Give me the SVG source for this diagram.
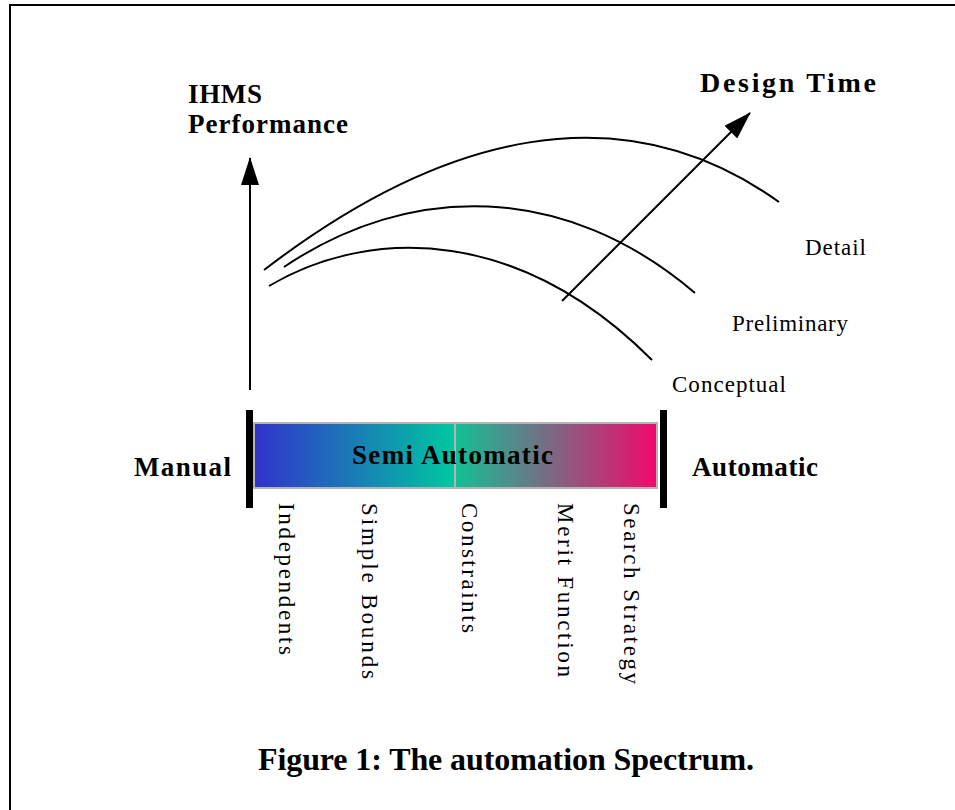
<svg xmlns="http://www.w3.org/2000/svg" width="955" height="810" viewBox="0 0 955 810">
<defs>
<style>
.b{font-family:"Liberation Serif","Times New Roman",serif;font-weight:bold;fill:#000}
.r{font-family:"Liberation Serif","Times New Roman",serif;fill:#000}
.ln{fill:none;stroke:#000;stroke-width:2}
</style>
<linearGradient id="g1" x1="0" y1="0" x2="1" y2="0">
<stop offset="0" stop-color="#3232cc"/>
<stop offset="1" stop-color="#00c8a0"/>
</linearGradient>
<linearGradient id="g2" x1="0" y1="0" x2="1" y2="0">
<stop offset="0" stop-color="#12c096"/>
<stop offset="1" stop-color="#f2086c"/>
</linearGradient>
<marker id="ah" viewBox="0 0 28 18" refX="27" refY="9" markerWidth="28" markerHeight="18" markerUnits="userSpaceOnUse" orient="auto">
<path d="M0,0 L28,9 L0,18 Z" fill="#000"/>
</marker>
</defs>
<rect width="955" height="810" fill="#fff"/>
<path d="M10,815 V5 H960" fill="none" stroke="#000" stroke-width="2"/>

<g id="connectors">
<line id="perf-axis" class="ln" x1="250" y1="390" x2="250" y2="158" marker-end="url(#ah)"/>
<line id="time-axis" class="ln" x1="562" y1="301" x2="750" y2="113" marker-end="url(#ah)"/>
<path id="curve-detail" class="ln" d="M264,270 C440,135 620,88 779,202"/>
<path id="curve-prelim" class="ln" d="M284,267 C410,182 565,182 695,293"/>
<path id="curve-concept" class="ln" d="M269,286 C375,224 522,230 652,360"/>
</g>

<g id="spectrum">
<rect x="254" y="423" width="201" height="65" fill="url(#g1)" stroke="#b4b4b4" stroke-width="2"/>
<rect x="455" y="423" width="202" height="65" fill="url(#g2)" stroke="#b4b4b4" stroke-width="2"/>
<rect x="246" y="410" width="7" height="98" fill="#000"/>
<rect x="660" y="410" width="7" height="98" fill="#000"/>
<text class="b" x="352" y="464" font-size="27" textLength="201" lengthAdjust="spacing">Semi Automatic</text>
</g>

<g id="label-ihms"><text class="b" x="188" y="103" font-size="27" textLength="74" lengthAdjust="spacing">IHMS</text>
<text class="b" x="188" y="133" font-size="27" textLength="160" lengthAdjust="spacing">Performance</text></g>
<g id="label-design-time"><text class="b" x="700" y="92" font-size="28" textLength="176" lengthAdjust="spacing">Design Time</text></g>
<g id="label-manual"><text class="b" x="134" y="476" font-size="27" textLength="97" lengthAdjust="spacing">Manual</text></g>
<g id="label-automatic"><text class="b" x="692" y="476" font-size="27" textLength="126" lengthAdjust="spacing">Automatic</text></g>

<g id="label-detail"><text class="r" x="805" y="255" font-size="23" textLength="61" lengthAdjust="spacing">Detail</text></g>
<g id="label-preliminary"><text class="r" x="732" y="331" font-size="23" textLength="116" lengthAdjust="spacing">Preliminary</text></g>
<g id="label-conceptual"><text class="r" x="672" y="392" font-size="23" textLength="114" lengthAdjust="spacing">Conceptual</text></g>

<g id="label-independents"><text class="r" transform="translate(279,503) rotate(90)" font-size="23" textLength="152" lengthAdjust="spacing">Independents</text></g>
<g id="label-simple-bounds"><text class="r" transform="translate(362,503) rotate(90)" font-size="23" textLength="176" lengthAdjust="spacing">Simple Bounds</text></g>
<g id="label-constraints"><text class="r" transform="translate(462,503) rotate(90)" font-size="23" textLength="130" lengthAdjust="spacing">Constraints</text></g>
<g id="label-merit"><text class="r" transform="translate(558,503) rotate(90)" font-size="23" textLength="174" lengthAdjust="spacing">Merit Function</text></g>
<g id="label-search"><text class="r" transform="translate(624,503) rotate(90)" font-size="23" textLength="181" lengthAdjust="spacing">Search Strategy</text></g>

<g id="caption"><text class="b" x="258" y="770" font-size="32" textLength="496" lengthAdjust="spacing">Figure 1: The automation Spectrum.</text></g>
</svg>
